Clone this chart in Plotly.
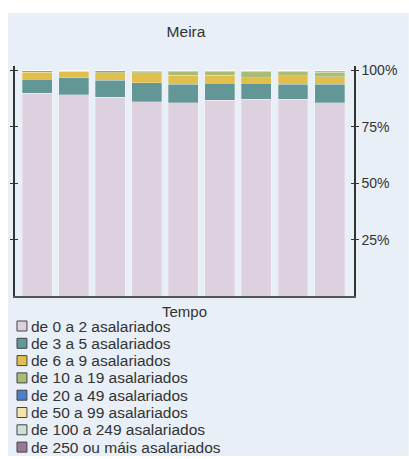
import plotly.graph_objects as go

periods = ["2013", "2014", "2015", "2016", "2017", "2018", "2019", "2020", "2021"]
series_names = [
    "de 0 a 2 asalariados",
    "de 3 a 5 asalariados",
    "de 6 a 9 asalariados",
    "de 10 a 19 asalariados",
    "de 20 a 49 asalariados",
    "de 50 a 99 asalariados",
    "de 100 a 249 asalariados",
    "de 250 ou máis asalariados",
]
s0_2 = [90.0, 89.3, 87.9, 86.1, 85.7, 86.9, 87.2, 87.2, 85.7]
s3_5 = [6.2, 7.4, 7.4, 8.4, 8.3, 7.4, 7.1, 6.8, 8.3]
s6_9 = [3.1, 2.7, 3.4, 4.6, 4.0, 3.7, 2.5, 3.7, 3.2]
s10_19 = [0.2, 0.2, 0.5, 0.4, 1.5, 1.4, 2.8, 1.9, 2.0]
s20_49 = [0.3, 0.2, 0.3, 0.2, 0.2, 0.3, 0.2, 0.2, 0.5]
s50_99 = [0.1, 0.1, 0.1, 0.1, 0.1, 0.1, 0.1, 0.1, 0.1]
s100_249 = [0.1, 0.1, 0.1, 0.1, 0.1, 0.1, 0.1, 0.1, 0.1]
s250 = [0.0, 0.0, 0.0, 0.1, 0.1, 0.1, 0.0, 0.0, 0.1]
series_values = [s0_2, s3_5, s6_9, s10_19, s20_49, s50_99, s100_249, s250]
colors = ["#ddd1e0", "#639797", "#e0bf4c", "#aabb74", "#4c7fc6", "#f5e4a8", "#cde0d8", "#987898"]
y_ticks = [25, 50, 75, 100]
y_tick_labels = ["25%", "50%", "75%", "100%"]

W, H = 409, 459
L, R, T, B = 15, 356, 66, 296
pw, ph = R - L, B - T

fig = go.Figure()
for name, vals, col in zip(series_names, series_values, colors):
    fig.add_trace(go.Bar(
        x=periods, y=vals, name=name,
        marker=dict(color=col, line=dict(color="rgba(255,255,255,0.45)", width=0.6)),
    ))

font = "Liberation Sans, Arial, sans-serif"
bg = "#e8eff7"
txt = "#333333"

def px_x(p):
    return (p - L) / pw

def px_y(p):
    return (B - p) / ph

fig.update_layout(
    width=W, height=H,
    margin=dict(l=L, r=W - R, t=T, b=H - B, pad=0),
    paper_bgcolor="white",
    plot_bgcolor=bg,
    barmode="stack",
    barnorm="percent",
    bargap=0.18,
    font=dict(family=font, size=13, color=txt),
    title=dict(text="Meira", x=186 / W, xanchor="center", y=1 - 32 / H, yanchor="middle",
               font=dict(size=15.5, color=txt)),
    showlegend=False,
    xaxis=dict(
        range=[-0.61, 8.67],
        showticklabels=False,
        ticks="",
        showgrid=False,
        zeroline=False,
        showline=True, linecolor="#555555", linewidth=1.5,
        layer="below traces",
        fixedrange=True,
    ),
    yaxis=dict(
        range=[0, 102],
        tickvals=y_ticks,
        showticklabels=False,
        ticks="outside", ticklen=3, tickcolor=txt,
        showgrid=False, zeroline=False,
        showline=True, linecolor=txt, linewidth=1.5,
        fixedrange=True,
    ),
    yaxis2=dict(
        range=[0, 102], overlaying="y", side="right", anchor="x",
        tickvals=y_ticks, ticktext=y_tick_labels,
        ticks="outside", ticklen=3, tickcolor=txt,
        showgrid=False, zeroline=False,
        showline=True, linecolor=txt, linewidth=1.5,
        tickfont=dict(size=14, color=txt),
    ),
    yaxis3=dict(
        range=[0, 102], overlaying="y", side="left", anchor="x",
        tickvals=y_ticks, showticklabels=False,
        ticks="inside", ticklen=3, tickcolor=txt,
        showgrid=False, zeroline=False, showline=False,
    ),
    yaxis4=dict(
        range=[0, 102], overlaying="y", side="right", anchor="x",
        tickvals=y_ticks, showticklabels=False,
        ticks="inside", ticklen=3, tickcolor=txt,
        showgrid=False, zeroline=False, showline=False,
    ),
)

# invisible helper traces to activate the extra axes
for ax in ["y2", "y3", "y4"]:
    fig.add_trace(go.Scatter(x=[periods[0]], y=[0], yaxis=ax, mode="markers",
                             marker=dict(opacity=0), showlegend=False, hoverinfo="skip"))

# light panel background (white strip at top and left)
fig.add_shape(type="rect", xref="paper", yref="paper",
              x0=px_x(8), x1=px_x(W + 2), y0=px_y(456), y1=px_y(13),
              fillcolor=bg, line=dict(width=0), layer="below")

# x-axis title
fig.add_annotation(text="Tempo", xref="paper", yref="paper", x=px_x(186), y=px_y(311),
                   xanchor="center", yanchor="middle", showarrow=False,
                   font=dict(size=15, color=txt))

# legend (drawn from the series names and colours)
for i, (name, col) in enumerate(zip(series_names, colors)):
    yc = 326 + i * 17.3
    fig.add_shape(type="rect", xref="paper", yref="paper",
                  x0=px_x(17), x1=px_x(27), y0=px_y(yc + 5), y1=px_y(yc - 5),
                  fillcolor=col, line=dict(color="#444444", width=1))
    fig.add_annotation(text=name, xref="paper", yref="paper", x=px_x(29), y=px_y(yc),
                       xanchor="left", yanchor="middle", showarrow=False,
                       font=dict(size=15.5, color=txt))

fig.write_html(
    "out.html",
    config={"displayModeBar": False},
    post_script="document.body.style.margin='0';document.body.style.overflow='hidden';",
)
